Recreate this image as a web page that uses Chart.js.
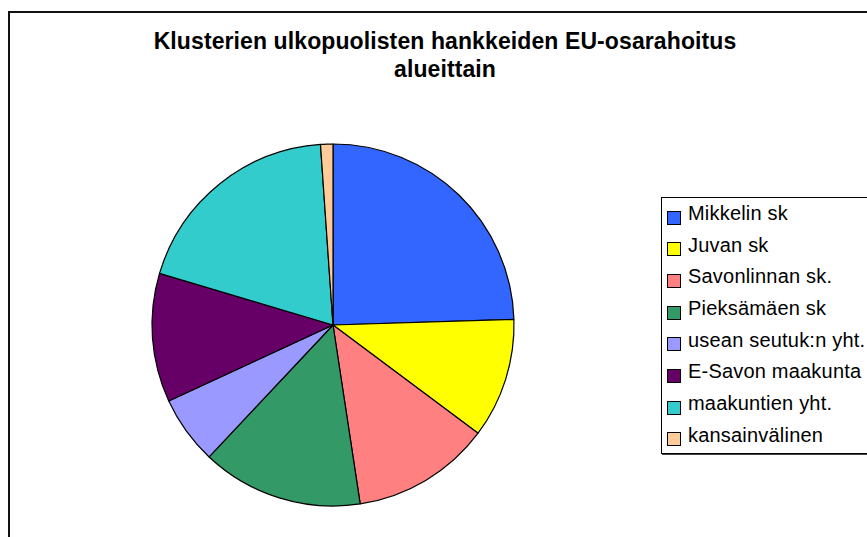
<!DOCTYPE html>
<html>
<head>
<meta charset="utf-8">
<title>Klusterien ulkopuolisten hankkeiden EU-osarahoitus alueittain</title>
<script src="https://cdn.jsdelivr.net/npm/chart.js@4/dist/chart.umd.min.js"></script>
<style>
    html, body {
        margin: 0;
        padding: 0;
        background: #fff;
    }
    #page {
        position: relative;
        width: 867px;
        height: 537px;
        overflow: hidden;
        font-family: "Liberation Sans", Arial, sans-serif;
        color: #000;
    }
    #frame {
        position: absolute;
        left: 8px;
        top: 11px;
        width: 1000px;
        height: 1000px;
        border-left: 2px solid #111;
        border-top: 2px solid #111;
    }
    #title {
        position: absolute;
        left: 145px;
        top: 27px;
        width: 600px;
        text-align: center;
        font-weight: bold;
        font-size: 23px;
        line-height: 28px;
        letter-spacing: 0.1px;
        white-space: nowrap;
    }
    #pie {
        position: absolute;
        left: 143px;
        top: 135px;
    }
    #legend {
        position: absolute;
        left: 661px;
        top: 197px;
        width: 215px;
        height: 255px;
        border: 1px solid #000;
        box-shadow: 1px 1px 0 #444;
        background: #fff;
    }
    .item {
        position: relative;
        height: 31.7px;
        font-size: 20px;
        line-height: 31.7px;
        letter-spacing: 0.2px;
        white-space: nowrap;
    }
    .item .box {
        position: absolute;
        left: 5px;
        top: 12.5px;
        width: 12px;
        height: 12px;
        border: 1px solid #000;
    }
    .item .txt {
        position: absolute;
        left: 26px;
        top: 0;
    }
</style>
</head>
<body>
<div id="page">
    <div id="frame"></div>
    <div id="title">Klusterien ulkopuolisten hankkeiden EU-osarahoitus<br>alueittain</div>
    <canvas id="pie" width="380" height="380"></canvas>
    <div id="legend"></div>
</div>

<script>
// alueet
const regions = ['Mikkelin sk', 'Juvan sk', 'Savonlinnan sk.', 'Pieksämäen sk',
    'usean seutuk:n yht.', 'E-Savon maakunta', 'maakuntien yht.', 'kansainvälinen'];

// osuus EU-rahoituksesta (%), luettu kuvasta
const shares = [24.5, 10.7, 12.4, 14.4, 6.1, 11.5, 19.3, 1.1];

const sliceColors = ['#3366FF', '#FFFF00', '#FF8080', '#339966',
    '#9999FF', '#660066', '#33CCCC', '#FFCC99'];

window.addEventListener('load', function() {
    if (typeof Chart === 'undefined') {
        console.error('Chart.js ei latautunut');
        return;
    }

    const ctx = document.getElementById('pie').getContext('2d');
    const pieChart = new Chart(ctx, {
        type: 'pie',
        data: {
            labels: regions,
            datasets: [{
                data: shares,
                backgroundColor: sliceColors,
                borderColor: '#000',
                borderWidth: 1.2,
                radius: 181
            }]
        },
        options: {
            responsive: false,
            animation: false,
            devicePixelRatio: 1,
            layout: { padding: 0 },
            plugins: {
                legend: { display: false },
                title: { display: false },
                tooltip: { enabled: false }
            }
        }
    });

    // selite HTML:nä kaavion omista tiedoista
    const legendEl = document.getElementById('legend');
    const items = pieChart.options.plugins.legend.labels.generateLabels(pieChart);
    items.forEach(function(item) {
        const row = document.createElement('div');
        row.className = 'item';
        const box = document.createElement('span');
        box.className = 'box';
        box.style.background = item.fillStyle;
        const txt = document.createElement('span');
        txt.className = 'txt';
        txt.textContent = item.text;
        row.appendChild(box);
        row.appendChild(txt);
        legendEl.appendChild(row);
    });
});
</script>
</body>
</html>
